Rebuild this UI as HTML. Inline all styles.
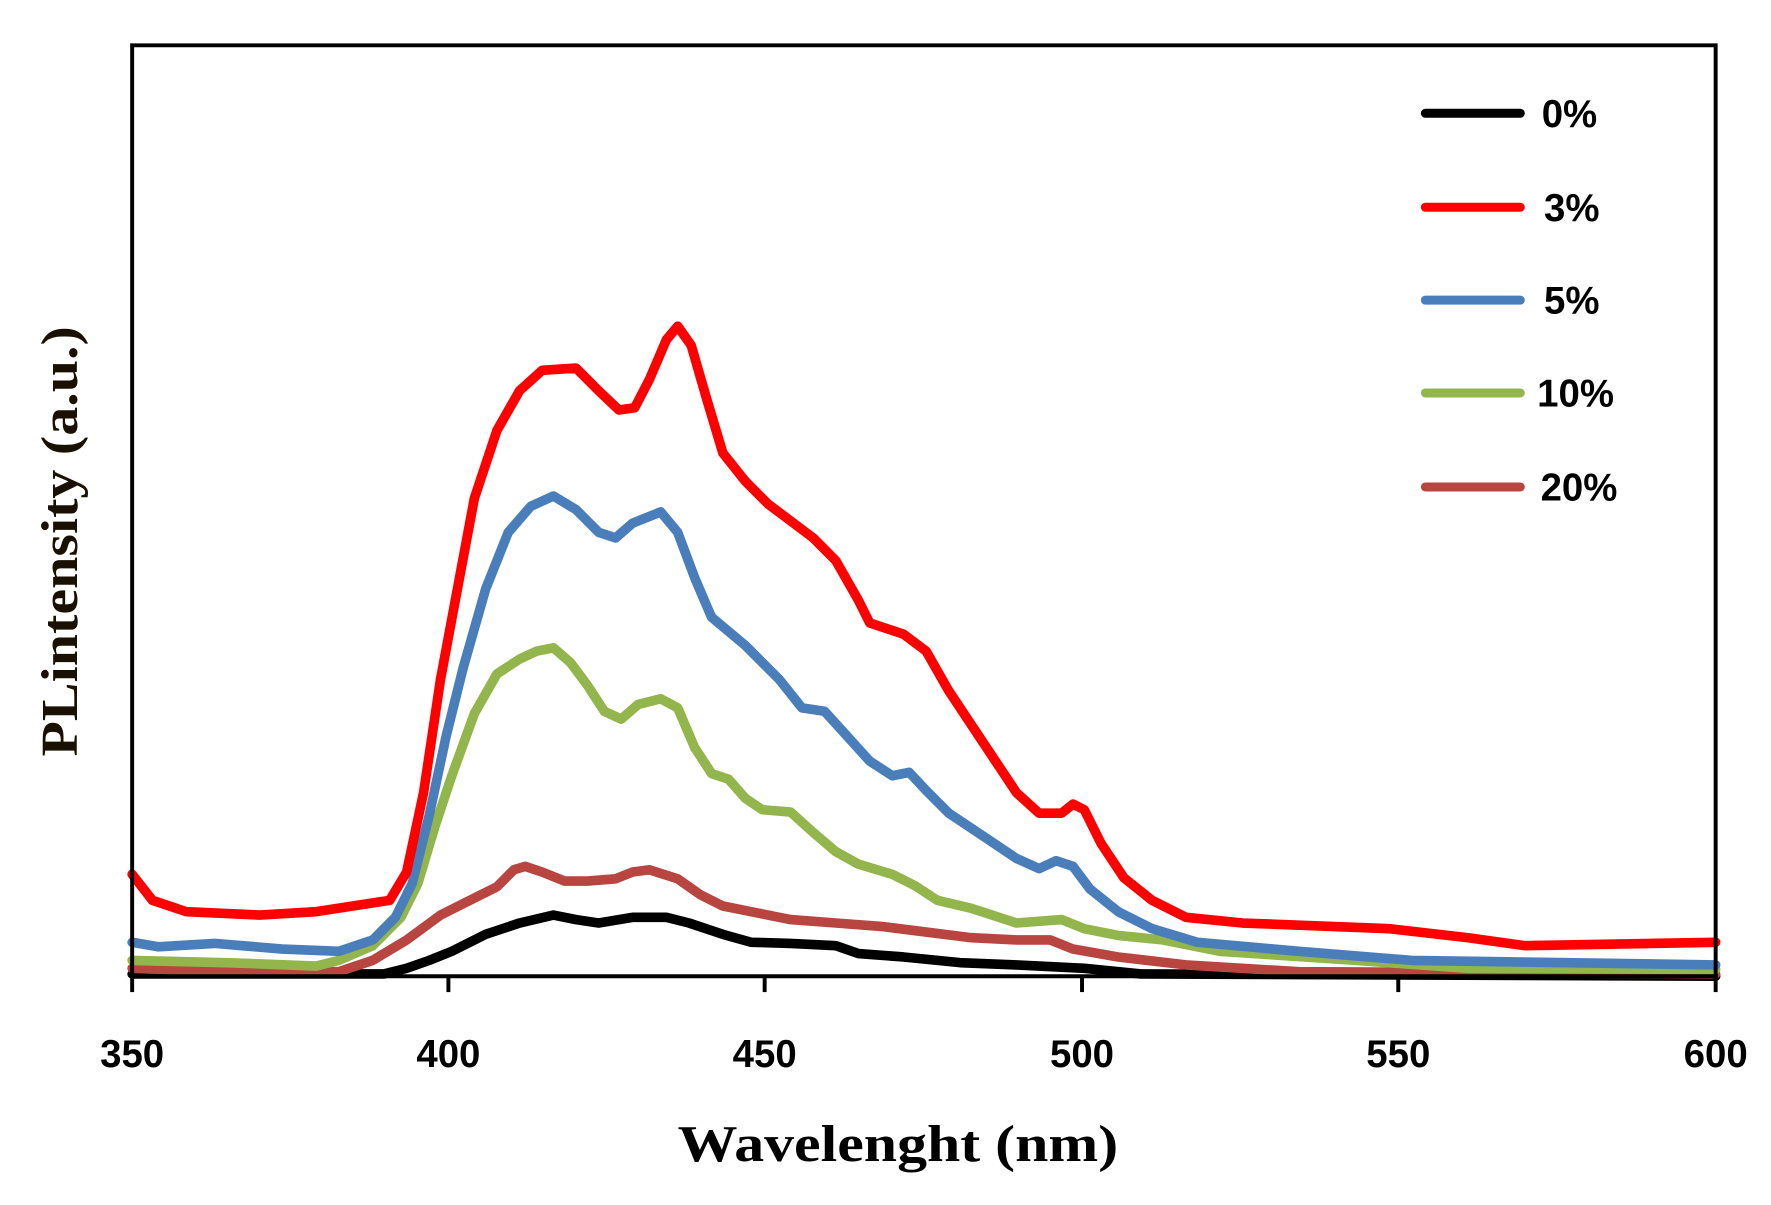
<!DOCTYPE html>
<html><head><meta charset="utf-8"><style>html,body{margin:0;padding:0;background:#fff}svg{display:block}</style></head>
<body>
<svg width="1771" height="1205" viewBox="0 0 1568 1064" preserveAspectRatio="none" xmlns="http://www.w3.org/2000/svg">
<rect width="1568" height="1064" fill="#fff"/>
<g fill="none" stroke-width="8.5" stroke-linejoin="round" stroke-linecap="round">
<polyline stroke="#000" points="117,860 340,860 360,855 380,848 400,840 430,825 460,815 490,808 510,812 530,815 560,810 590,810 610,815 640,825 665,832 700,833 740,835 760,842 800,845 850,850 900,852 960,855 1010,860 1519,862"/>
<polyline stroke="#b84540" points="117,855 200,858 300,858 330,848 360,830 390,808 420,793 440,783 455,768 465,765 480,770 500,778 520,778 545,776 560,770 575,768 600,776 620,790 640,800 670,806 700,812 740,815 780,818 820,823 860,828 900,830 930,830 950,838 990,845 1050,852 1150,858 1519,860"/>
<polyline stroke="#92b54c" points="117,848 200,850 280,853 300,848 330,835 355,810 370,780 385,730 400,685 420,630 440,595 460,582 475,575 490,572 505,585 520,605 535,628 550,635 565,622 585,617 600,625 615,660 630,683 645,688 660,705 675,715 700,717 720,735 740,752 760,763 790,772 810,782 830,795 860,802 900,815 940,812 960,820 990,826 1030,830 1080,840 1200,848 1300,855 1519,856"/>
<polyline stroke="#4a7ebb" points="117,832 140,836 190,833 250,838 300,840 330,830 350,810 365,780 380,720 395,650 410,590 430,520 450,470 470,447 490,438 510,450 530,470 545,475 560,462 585,452 600,470 615,510 630,545 660,570 690,600 710,625 730,628 750,650 770,672 790,685 805,682 820,698 840,718 870,738 900,758 920,767 935,760 950,765 965,785 990,805 1020,820 1060,832 1150,840 1250,848 1519,852"/>
<polyline stroke="#ff0000" points="117,772 135,795 165,805 230,808 280,805 345,795 360,770 375,700 390,600 405,520 420,440 440,380 460,345 480,327 510,325 530,345 548,362 562,360 575,335 590,300 600,288 612,305 625,350 640,400 660,425 680,445 700,460 720,475 740,495 760,530 770,550 800,560 820,575 840,610 860,640 880,670 900,700 920,718 940,718 950,710 960,715 975,745 995,775 1020,795 1050,810 1100,815 1230,820 1300,828 1350,835 1519,832"/>
</g>
<g stroke="#000" stroke-width="3.5" fill="none">
<polyline points="117,862 117,40 1519,40 1519,862"/>
<line x1="115" y1="862" x2="1521" y2="862"/>
<line x1="117" y1="862" x2="117" y2="876"/><line x1="397" y1="862" x2="397" y2="876"/><line x1="677" y1="862" x2="677" y2="876"/><line x1="958" y1="862" x2="958" y2="876"/><line x1="1238" y1="862" x2="1238" y2="876"/><line x1="1519" y1="862" x2="1519" y2="876"/>
</g>
<g font-family="Liberation Sans, sans-serif" font-weight="bold" font-size="34" text-anchor="middle" fill="#000">
<text x="117" y="942">350</text><text x="397" y="942">400</text><text x="677" y="942">450</text><text x="958" y="942">500</text><text x="1238" y="942">550</text><text x="1519" y="942">600</text>
</g>
<text x="795" y="1025" font-family="Liberation Serif, serif" font-weight="bold" font-size="46" text-anchor="middle" textLength="390" lengthAdjust="spacingAndGlyphs">Wavelenght (nm)</text>
<text transform="translate(68,478) rotate(-90)" font-family="Liberation Serif, serif" font-weight="bold" font-size="46" text-anchor="middle" fill="#1a1000" textLength="380" lengthAdjust="spacingAndGlyphs">PLintensity (a.u.)</text>
<g stroke-width="8" stroke-linecap="round">
<line x1="1262" y1="100" x2="1346" y2="100" stroke="#000"/>
<line x1="1262" y1="183" x2="1346" y2="183" stroke="#ff0000"/>
<line x1="1262" y1="265" x2="1346" y2="265" stroke="#4a7ebb"/>
<line x1="1262" y1="347" x2="1346" y2="347" stroke="#92b54c"/>
<line x1="1262" y1="430" x2="1346" y2="430" stroke="#b84540"/>
</g>
<g font-family="Liberation Sans, sans-serif" font-weight="bold" font-size="34" fill="#000">
<text x="1365" y="112">0%</text>
<text x="1367" y="195">3%</text>
<text x="1367" y="277">5%</text>
<text x="1361" y="359">10%</text>
<text x="1364" y="442">20%</text>
</g>
</svg>
</body></html>
